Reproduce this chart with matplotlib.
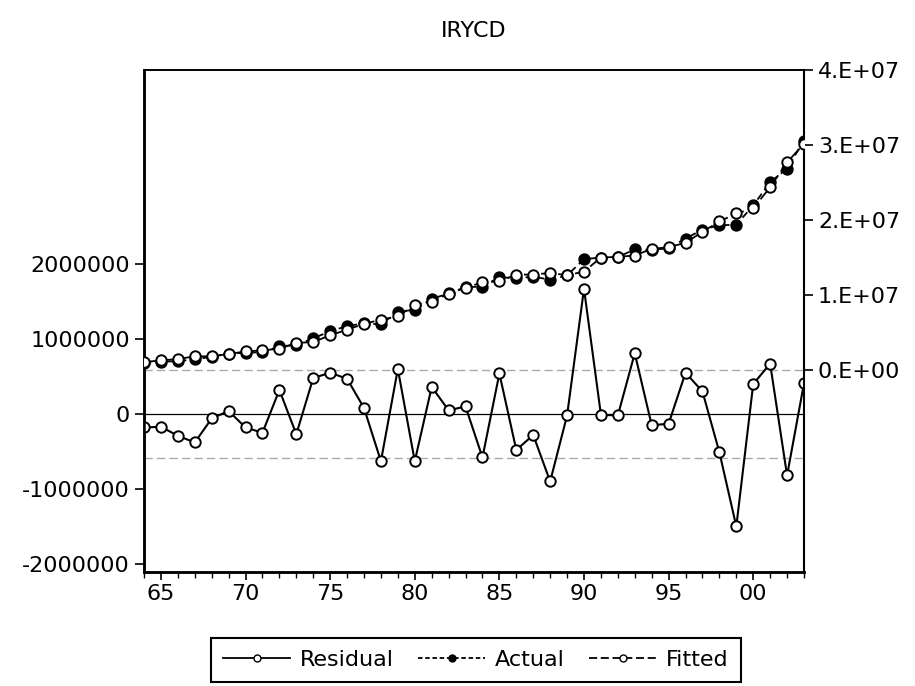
import matplotlib
matplotlib.use("Agg")
import matplotlib.pyplot as plt
from matplotlib.lines import Line2D
from matplotlib.ticker import FixedLocator, MultipleLocator, FuncFormatter

plt.rcParams['font.family'] = ['DejaVu Sans']
plt.rcParams['axes.unicode_minus'] = False

title = "IRYCD"
years = list(range(1964, 2004))
residual = [-0.18, -0.17, -0.29, -0.38, -0.06, 0.04, -0.18, -0.25, 0.32, -0.27,
            0.48, 0.55, 0.47, 0.08, -0.63, 0.60, -0.63, 0.36, 0.05, 0.10,
            -0.58, 0.54, -0.48, -0.28, -0.90, -0.02, 1.67, -0.01, -0.02, 0.81,
            -0.15, -0.13, 0.55, 0.30, -0.51, -1.50, 0.40, 0.67, -0.82, 0.41]
residual = [v * 1e6 for v in residual]
actual = [0.94, 1.16, 1.23, 1.49, 1.81, 2.23, 2.35, 2.42, 3.21, 3.38,
          4.27, 5.22, 5.90, 6.27, 6.13, 7.80, 8.09, 9.52, 10.25, 11.10,
          11.15, 12.41, 12.28, 12.48, 12.08, 12.65, 14.83, 15.02, 15.10, 16.11,
          16.04, 16.27, 17.55, 18.75, 19.32, 19.40, 21.96, 25.07, 26.88, 30.60]
actual = [v * 1e6 for v in actual]
fitted = [1.12, 1.33, 1.52, 1.87, 1.87, 2.19, 2.53, 2.67, 2.89, 3.65,
          3.79, 4.67, 5.43, 6.19, 6.76, 7.20, 8.72, 9.16, 10.20, 11.00,
          11.73, 11.87, 12.76, 12.76, 12.98, 12.67, 13.16, 15.03, 15.12, 15.30,
          16.19, 16.40, 17.00, 18.45, 19.83, 20.90, 21.56, 24.40, 27.70, 30.19]
fitted = [v * 1e6 for v in fitted]
std_err = 0.587e6
left_ticks = [-2000000, -1000000, 0, 1000000, 2000000]
right_ticks = [0, 1e7, 2e7, 3e7, 4e7]
right_labels = ["0.E+00", "1.E+07", "2.E+07", "3.E+07", "4.E+07"]
x_major = [1965, 1970, 1975, 1980, 1985, 1990, 1995, 2000]
x_labels = ["65", "70", "75", "80", "85", "90", "95", "00"]
legend_labels = ["Residual", "Actual", "Fitted"]

W, H = 915, 686
fig = plt.figure(figsize=(W / 100, H / 100), dpi=100)
L, R, T, B = 144, 804, 70, 572
ax = fig.add_axes([L / W, 1 - B / H, (R - L) / W, (B - T) / H])
ax2 = ax.twinx()

fs = 16
ms = 7.5
mew = 1.4

# residual axis
ax.axhline(0, color='black', lw=0.9, zorder=1)
ax.axhline(std_err, color='#aaaaaa', lw=1.0, ls=(0, (6, 3)), zorder=1)
ax.axhline(-std_err, color='#aaaaaa', lw=1.0, ls=(0, (6, 3)), zorder=1)
ax.plot(years, residual, color='black', lw=1.5, marker='o', ms=ms,
        mfc='white', mec='black', mew=mew, zorder=3)
ax.set_ylim(-2.107e6, 4.587e6)
ax.yaxis.set_major_locator(FixedLocator(left_ticks))
ax.yaxis.set_major_formatter(FuncFormatter(lambda v, p: "%d" % int(round(v))))
ax.set_xlim(1964, 2003)
ax.xaxis.set_major_locator(FixedLocator(x_major))
ax.set_xticklabels(x_labels)
ax.xaxis.set_minor_locator(MultipleLocator(1))

# actual / fitted axis
ax2.plot(years, actual, color='black', lw=1.3, ls=(0, (4, 2.5)), marker='o', ms=ms,
         mfc='black', mec='black', mew=mew, zorder=3)
ax2.plot(years, fitted, color='black', lw=1.3, ls=(0, (7, 2.5)), marker='o', ms=ms,
         mfc='white', mec='black', mew=mew, zorder=4)
ax2.set_ylim(-2.684e7, 4e7)
ax2.yaxis.set_major_locator(FixedLocator(right_ticks))
ax2.set_yticklabels(right_labels)

for a in (ax, ax2):
    a.tick_params(axis='y', which='major', labelsize=fs, direction='out',
                  length=6.5, width=1.2, color='black', pad=3.5)
    a.tick_params(axis='x', which='major', labelsize=fs, direction='out',
                  length=6, width=1.2, color='black', pad=3)
    a.tick_params(axis='x', which='minor', direction='out', length=4, width=1.0)
    for s in a.spines.values():
        s.set_linewidth(1.2)
for a in (ax, ax2):
    a.spines['left'].set_linewidth(1.8)
    a.spines['bottom'].set_linewidth(1.8)
ax2.spines['right'].set_linewidth(1.5)

ax.set_title(title, fontsize=fs, pad=24)

handles = [
    Line2D([], [], color='black', lw=1.3, marker='o', ms=5, mfc='white', mec='black', mew=1.0),
    Line2D([], [], color='black', lw=1.3, ls=(0, (2.5, 1.5)), marker='o', ms=5, mfc='black', mec='black'),
    Line2D([], [], color='black', lw=1.3, ls=(0, (4.5, 2)), marker='o', ms=5, mfc='white', mec='black', mew=1.0),
]
leg = fig.legend(handles, legend_labels, loc='center', bbox_to_anchor=(476 / W, 1 - 660 / H),
                 ncol=3, fontsize=fs, frameon=True, fancybox=False, edgecolor='black',
                 framealpha=1, handlelength=3.0, handletextpad=0.45, columnspacing=1.1,
                 borderpad=0.55, borderaxespad=0)
leg.get_frame().set_linewidth(1.5)

fig.savefig("out.png", dpi=100)
